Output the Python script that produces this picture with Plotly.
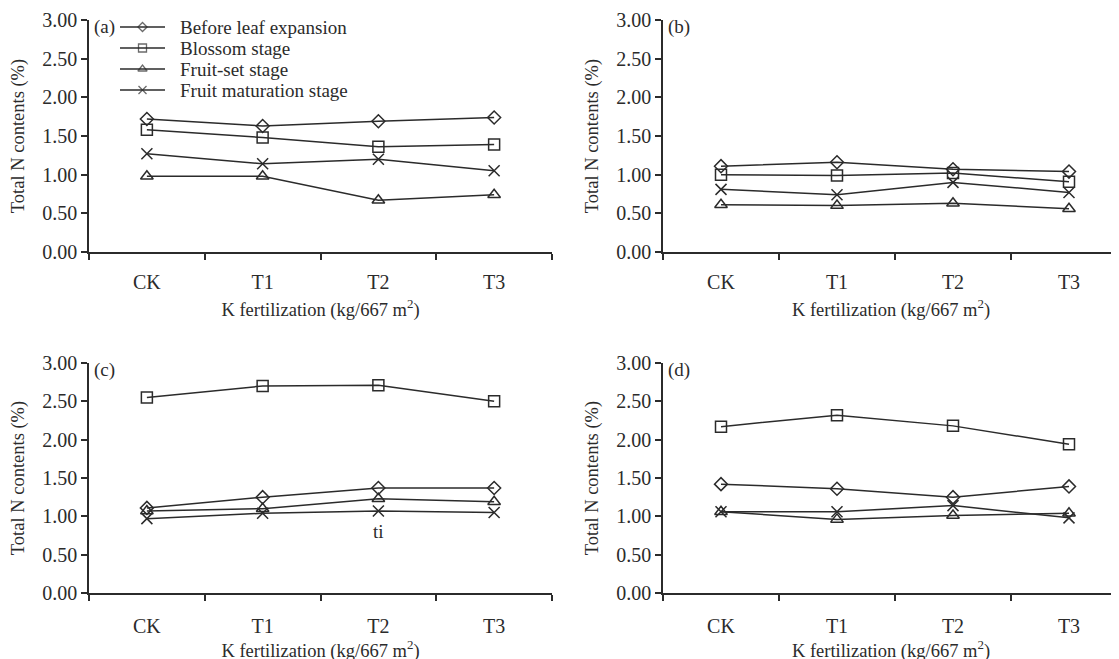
import plotly.graph_objects as go

categories = ["CK", "T1", "T2", "T3"]
series_names = ["Before leaf expansion", "Blossom stage", "Fruit-set stage", "Fruit maturation stage"]
symbols = ["diamond-open", "square-open", "triangle-up-open", "x-thin-open"]
sizes = [10, 11, 11, 11]
legend_sizes = [7, 8, 8, 8]

# panel (a)
a_before = [1.72, 1.63, 1.69, 1.74]
a_blossom = [1.58, 1.48, 1.36, 1.39]
a_fruitset = [0.98, 0.98, 0.67, 0.74]
a_maturation = [1.27, 1.14, 1.20, 1.05]
# panel (b)
b_before = [1.11, 1.16, 1.07, 1.04]
b_blossom = [1.00, 0.99, 1.02, 0.91]
b_fruitset = [0.61, 0.60, 0.63, 0.56]
b_maturation = [0.81, 0.74, 0.90, 0.77]
# panel (c)
c_before = [1.11, 1.25, 1.37, 1.37]
c_blossom = [2.55, 2.70, 2.71, 2.50]
c_fruitset = [1.07, 1.10, 1.23, 1.19]
c_maturation = [0.97, 1.04, 1.07, 1.05]
# panel (d)
d_before = [1.42, 1.36, 1.25, 1.39]
d_blossom = [2.17, 2.32, 2.18, 1.94]
d_fruitset = [1.06, 0.96, 1.01, 1.04]
d_maturation = [1.06, 1.06, 1.14, 0.98]

panels = [
    ("(a)", [a_before, a_blossom, a_fruitset, a_maturation]),
    ("(b)", [b_before, b_blossom, b_fruitset, b_maturation]),
    ("(c)", [c_before, c_blossom, c_fruitset, c_maturation]),
    ("(d)", [d_before, d_blossom, d_fruitset, d_maturation]),
]

# page body adds an 8px offset; work in screen pixels
OFF = 8
W, H = 1119, 659
S_LEFT, S_RIGHT, S_TOP, S_BOT = 89, 1119, 20, 593
ML = S_LEFT - OFF
MT = S_TOP - OFF
MR = W - (S_RIGHT - OFF)
MB = H - (S_BOT - OFF)
PW = S_RIGHT - S_LEFT
PH = S_BOT - S_TOP

def px_x(p):
    return (p - S_LEFT) / PW

def px_y(p):
    return (S_BOT - p) / PH

x_domains = [[px_x(89), px_x(552)], [px_x(663), 1.0]]
y_domains = [[px_y(252), 1.0], [0.0, px_y(363)]]
x_ranges = [[-0.5, 3.5], [-0.5, -0.5 + (1119 - 663) / 116.0]]
label_standoffs = [11, 14]
title_standoffs = [11, 4]

# legend key layout (screen pixels)
LEG_X0, LEG_X1, LEG_TEXT_X = 120, 165, 178
LEG_ROWS = [27, 48, 69, 90]

FONT = "Liberation Serif, Times New Roman, serif"
INK = "#2b2b2b"
TICK_SIZE = 20
TITLE_SIZE = 18.5

fig = go.Figure()
layout = dict(
    width=W, height=H,
    margin=dict(l=ML, r=MR, t=MT, b=MB, pad=0, autoexpand=False),
    paper_bgcolor="white", plot_bgcolor="rgba(0,0,0,0)",
    font=dict(family=FONT, size=TICK_SIZE, color=INK),
    showlegend=False,
)
annotations = []

for i, (label, data) in enumerate(panels):
    row, col = divmod(i, 2)
    n = i + 1
    xa = "x" if n == 1 else f"x{n}"
    ya = "y" if n == 1 else f"y{n}"
    for k, vals in enumerate(data):
        fig.add_trace(go.Scatter(
            x=categories, y=vals, mode="lines+markers",
            name=series_names[k],
            line=dict(color=INK, width=1.5),
            marker=dict(symbol=symbols[k], size=sizes[k], color=INK,
                        line=dict(color=INK, width=1.5)),
            cliponaxis=False, xaxis=xa, yaxis=ya,
        ))
    xkey = "xaxis" if n == 1 else f"xaxis{n}"
    ykey = "yaxis" if n == 1 else f"yaxis{n}"
    layout[xkey] = dict(
        domain=x_domains[col], anchor=ya, type="category",
        categoryorder="array", categoryarray=categories,
        range=x_ranges[col], showline=True, linecolor=INK, linewidth=1.5,
        ticks="outside", tickson="boundaries", ticklen=6, tickwidth=1.5,
        tickcolor=INK, ticklabelstandoff=label_standoffs[row],
        showgrid=False, zeroline=False, automargin=False,
        tickfont=dict(size=TICK_SIZE, family=FONT, color=INK),
        title=dict(text="K fertilization (kg/667 m<sup>2</sup>)",
                   font=dict(size=TITLE_SIZE, family=FONT, color=INK),
                   standoff=title_standoffs[row]),
    )
    layout[ykey] = dict(
        domain=y_domains[row], anchor=xa, range=[0, 3], dtick=0.5, tick0=0,
        tickformat=".2f", showline=True, linecolor=INK, linewidth=1.5,
        ticks="outside", ticklen=6, tickwidth=1.5, tickcolor=INK,
        showgrid=False, zeroline=False, automargin=False,
        tickfont=dict(size=TICK_SIZE, family=FONT, color=INK),
        title=dict(text="Total N contents (%)",
                   font=dict(size=TITLE_SIZE, family=FONT, color=INK), standoff=13),
    )
    annotations.append(dict(
        text=label, xref=f"{xa} domain", yref=f"{ya} domain",
        x=0.006, y=0.968, xanchor="left", yanchor="middle", showarrow=False,
        font=dict(size=19, family=FONT, color=INK),
    ))

# overlay axes in screen-pixel units for the legend key
layout["xaxis5"] = dict(domain=[0, 1], anchor="y5", range=[S_LEFT, S_RIGHT],
                        visible=False, fixedrange=True, automargin=False)
layout["yaxis5"] = dict(domain=[0, 1], anchor="x5", range=[S_BOT, S_TOP],
                        visible=False, fixedrange=True, automargin=False)
for k, name in enumerate(series_names):
    yy = LEG_ROWS[k]
    xm = (LEG_X0 + LEG_X1) / 2
    fig.add_trace(go.Scatter(
        x=[LEG_X0, xm, LEG_X1], y=[yy, yy, yy], mode="lines+markers",
        name=name + " (key)", hoverinfo="skip",
        line=dict(color=INK, width=1.5),
        marker=dict(symbol=symbols[k], size=[0, legend_sizes[k], 0], color=INK,
                    line=dict(color=INK, width=1.3)),
        cliponaxis=False, xaxis="x5", yaxis="y5",
    ))
    annotations.append(dict(
        text=name, xref="x5", yref="y5", x=LEG_TEXT_X, y=yy,
        xanchor="left", yanchor="middle", showarrow=False,
        font=dict(size=19, family=FONT, color=INK),
    ))

annotations.append(dict(
    text="ti", xref="x3", yref="y3", x="T2", y=0.80, showarrow=False,
    font=dict(size=19, family=FONT, color=INK),
))
layout["annotations"] = annotations
fig.update_layout(**layout)
fig.write_html("out.html")
